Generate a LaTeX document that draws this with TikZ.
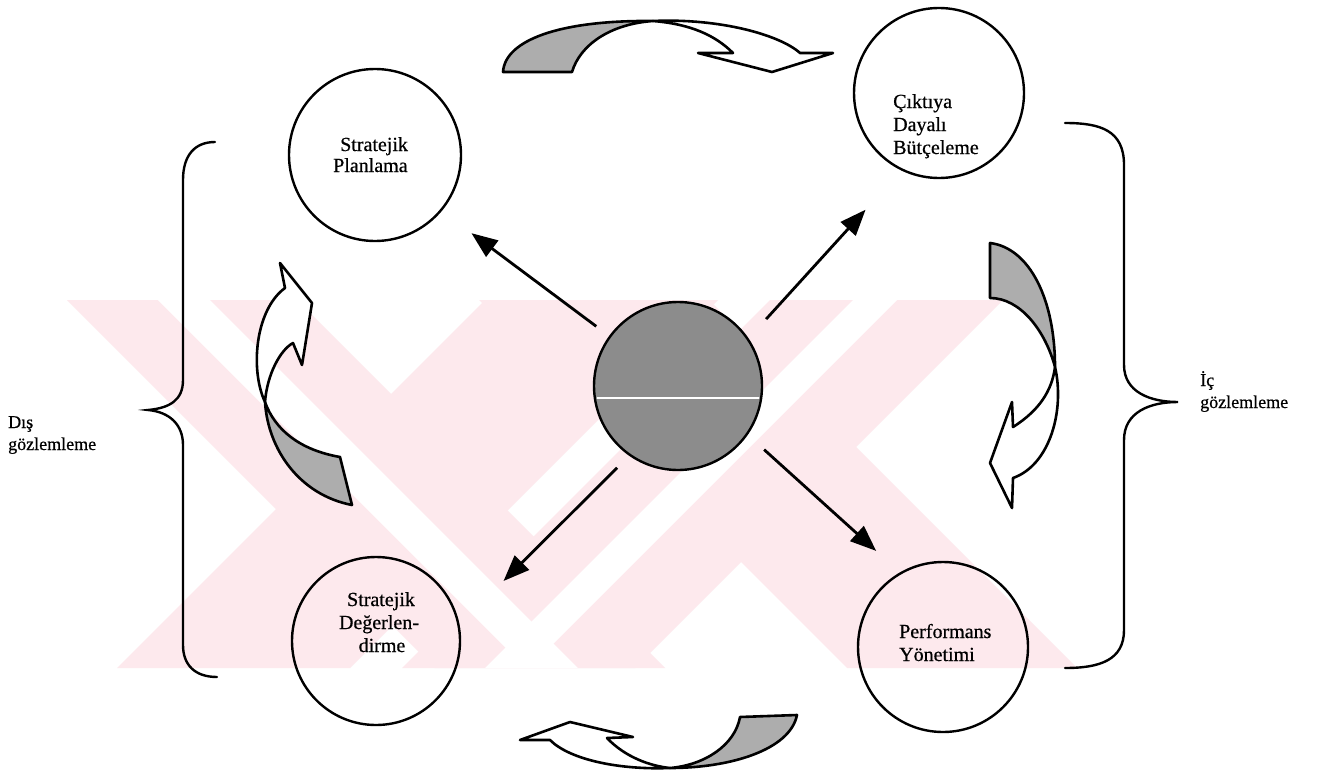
\documentclass[tikz,border=0pt]{standalone}
\usepackage{fontspec}
\setmainfont{Liberation Serif}
\newfontfamily\heavyserif{Liberation Serif}[FakeBold=0.6]
\usetikzlibrary{arrows.meta}
\definecolor{wmpink}{RGB}{253,233,237}
\definecolor{tailgray}{gray}{0.68}
\definecolor{centergray}{gray}{0.55}
\begin{document}
\begin{tikzpicture}[x=1bp,y=-1bp,
  ring/.style={circle,draw,line width=2.4bp,minimum size=#1,inner sep=0pt},
  lbl/.style={font=\heavyserif\fontsize{20bp}{23bp}\selectfont,inner sep=0pt},
  sidelbl/.style={font=\heavyserif\fontsize{18bp}{22bp}\selectfont,inner sep=0pt},
  conn/.style={line width=2.8bp,-{Triangle[length=26bp,width=20bp]}},
  ribbon/.style={draw,line width=2.6bp,line join=round},
  bracepath/.style={draw,line width=2.4bp,line cap=round}
]
\useasboundingbox (0,0) rectangle (1319,778);
\fill[white] (0,0) rectangle (1319,778);

% watermark
\fill[wmpink] (67,300) -- (297,300) -- (665,668) -- (435,668) -- cycle;
\fill[wmpink] (485,300) -- (718,300) -- (350,668) -- (117,668) -- cycle;
\fill[wmpink] (479,300) -- (709,300) -- (1077,668) -- (847,668) -- cycle;
\fill[wmpink] (770,300) -- (1003,300) -- (635,668) -- (402,668) -- cycle;
\fill[white] (158,300) -- (210,300) -- (578,668) -- (526,668) -- cycle;
\fill[white] (853,300) -- (897,300) -- (529,668) -- (485,668) -- cycle;

% circles
\node[ring=172bp] (sp) at (375,155) {};
\node[ring=170bp] (cdb) at (939,93) {};
\node[ring=168bp] (sd) at (376,641) {};
\node[ring=170bp] (py) at (943,647) {};
\node[ring=168bp,fill=centergray] (cen) at (678,386) {};
\begin{scope}
  \clip (678,386) circle[radius=82bp];
  \draw[white,line width=1.3bp] (590,398) -- (770,398);
\end{scope}

% connectors
\draw[conn,shorten <=16bp,shorten >=37bp] (cen.144) -- (sp.-40);
\draw[conn,shorten <=26bp,shorten >=53bp] (cen.34) -- (cdb.244);
\draw[conn,shorten <=17bp,shorten >=62bp] (cen.235) -- (sd.11);
\draw[conn,shorten <=22bp,shorten >=32bp] (cen.-35) -- (py.120);

% top ribbon arrow
\filldraw[ribbon,fill=tailgray] (503,72) .. controls (505,40) and (560,20) .. (653,21)
   .. controls (610,24) and (580,45) .. (572,72) -- cycle;
\filldraw[ribbon,fill=white] (653,21) .. controls (720,18) and (780,35) .. (800,53)
   -- (833,53) -- (772,72) -- (698,53) -- (733,53)
   .. controls (715,35) and (690,24) .. (653,21) -- cycle;

% bottom ribbon arrow
\filldraw[ribbon,fill=tailgray] (670,768) .. controls (730,768) and (790,750) .. (797,715)
   -- (740,717) .. controls (735,745) and (705,765) .. (670,768) -- cycle;
\filldraw[ribbon,fill=white] (670,768) .. controls (620,770) and (570,760) .. (550,740)
   -- (520,740) -- (570,722) -- (633,737) -- (607,738)
   .. controls (625,757) and (650,766) .. (670,768) -- cycle;

% left ribbon arrow
\filldraw[ribbon,fill=white] (265,402) .. controls (250,370) and (255,310) .. (285,288)
   -- (280,263) -- (312,303) -- (302,365) -- (293,343)
   .. controls (280,350) and (267,375) .. (265,402) -- cycle;
\filldraw[ribbon,fill=tailgray] (265,402) .. controls (268,450) and (300,495) .. (352,505)
   -- (340,457) .. controls (300,450) and (275,430) .. (265,402) -- cycle;

% right ribbon arrow
\filldraw[ribbon,fill=tailgray] (990,243) .. controls (1030,248) and (1055,300) .. (1055,367)
   .. controls (1045,330) and (1020,298) .. (990,298) -- cycle;
\filldraw[ribbon,fill=white] (1055,367) .. controls (1065,410) and (1050,465) .. (1013,478)
   -- (1012,508) -- (990,463) -- (1012,402) -- (1013,427)
   .. controls (1040,410) and (1052,390) .. (1055,367) -- cycle;

% braces
\draw[bracepath] (215,142) .. controls (195,142) and (183,155) .. (183,180) -- (183,380)
   .. controls (183,400) and (170,408) .. (148,410)
   .. controls (170,412) and (183,425) .. (183,445) -- (183,645)
   .. controls (183,665) and (195,677) .. (217,677);
\draw[bracepath] (1065,123) .. controls (1100,123) and (1124,130) .. (1124,165) -- (1124,365)
   .. controls (1124,392) and (1150,402) .. (1178,402)
   .. controls (1150,402) and (1124,412) .. (1124,440) -- (1124,630)
   .. controls (1124,660) and (1100,668) .. (1065,668);

% labels
\node[lbl,anchor=base west] (sp1) at (340,151) {Stratejik};
\node[lbl,anchor=base west] (sp2) at (333,172) {Planlama};
\node[lbl,anchor=base west] (cdb1) at (893,108) {Çıktıya};
\node[lbl,anchor=base west] (cdb2) at (893,131) {Dayalı};
\node[lbl,anchor=base west] (cdb3) at (893,154) {Bütçeleme};
\node[lbl,anchor=base] (sd1) at (381,606) {Stratejik};
\node[lbl,anchor=base] (sd2) at (379,629) {Değerlen-};
\node[lbl,anchor=base] (sd3) at (382,652) {dirme};
\node[lbl,anchor=base west] (py1) at (899,638) {Performans};
\node[lbl,anchor=base west] (py2) at (899,661) {Yönetimi};
\node[sidelbl,anchor=base west] (dis1) at (8,428) {Dış};
\node[sidelbl,anchor=base west] (dis2) at (8,450) {gözlemleme};
\node[sidelbl,anchor=base west] (ic1) at (1200,386) {İç};
\node[sidelbl,anchor=base west] (ic2) at (1200,408) {gözlemleme};
\end{tikzpicture}
\end{document}
